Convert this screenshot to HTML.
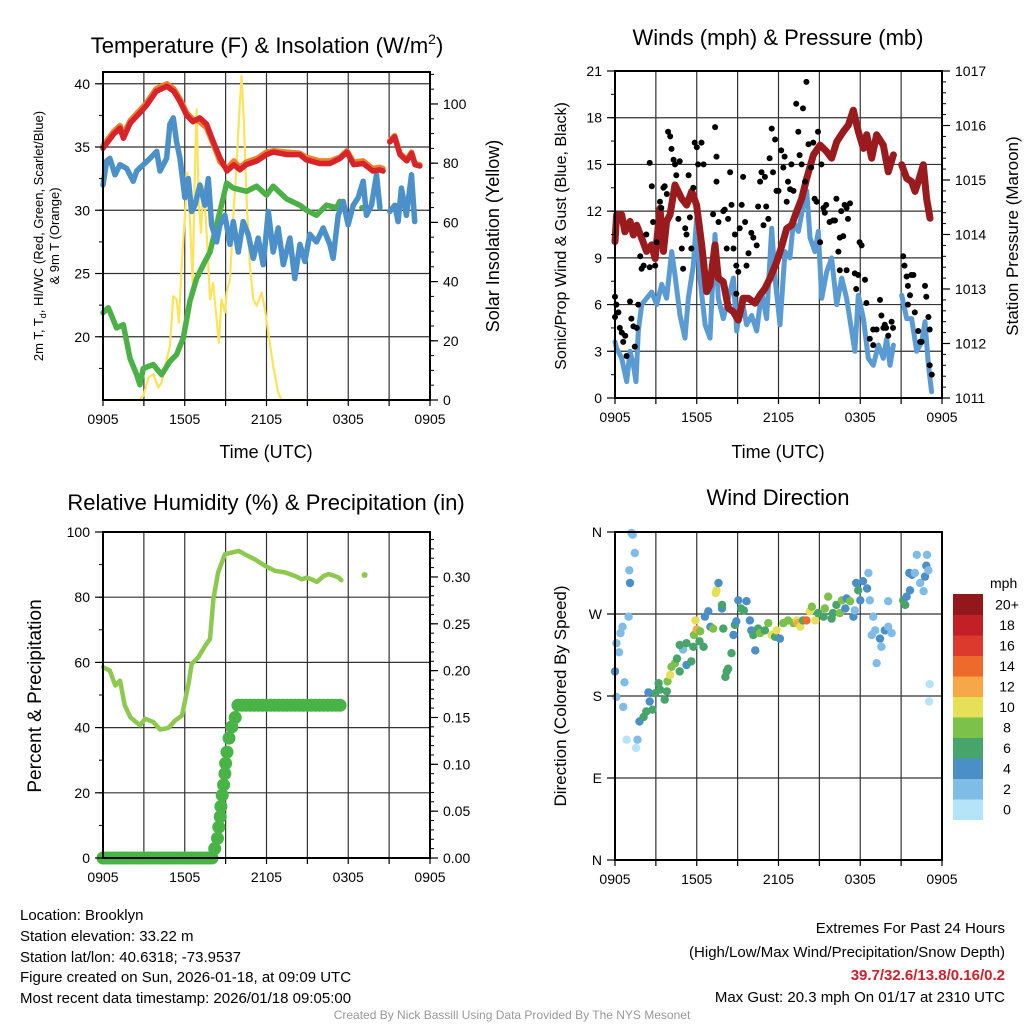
<!DOCTYPE html>
<html><head><meta charset="utf-8"><style>
body{margin:0;background:#fff}
svg{display:block;font-family:"Liberation Sans",sans-serif}
</style></head><body>
<svg id="s" width="1024" height="1024" viewBox="0 0 1024 1024" xmlns="http://www.w3.org/2000/svg">
<rect width="1024" height="1024" fill="#fff"/>
<g id="g"></g>
<g font-size="22" text-anchor="middle" fill="#000">
<text x="267" y="53">Temperature (F) &amp; Insolation (W/m<tspan font-size="14" dy="-9">2</tspan><tspan dy="9">)</tspan></text>
<text x="778" y="45">Winds (mph) &amp; Pressure (mb)</text>
<text x="266" y="510">Relative Humidity (%) &amp; Precipitation (in)</text>
<text x="778" y="505">Wind Direction</text>
</g>
<g font-size="18" text-anchor="middle">
<text x="266" y="458">Time (UTC)</text>
<text x="778" y="458">Time (UTC)</text>
<text transform="translate(499,236) rotate(-90)">Solar Insolation (Yellow)</text>
<text transform="translate(1018,236) rotate(-90)" font-size="17">Station Pressure (Maroon)</text>
<text transform="translate(566,236) rotate(-90)" font-size="16">Sonic/Prop Wind &amp; Gust (Blue, Black)</text>
<text transform="translate(41,696) rotate(-90)" font-size="19">Percent &amp; Precipitation</text>
<text transform="translate(566,696) rotate(-90)" font-size="17">Direction (Colored By Speed)</text>
<text transform="translate(43,236) rotate(-90)" font-size="13">2m T, T<tspan font-size="9" dy="3">d</tspan><tspan dy="-3">, HI/WC (Red, Green, Scarlet/Blue)</tspan></text>
<text transform="translate(59,236) rotate(-90)" font-size="13">&amp; 9m T (Orange)</text>
</g>
<g font-size="15" fill="#000">
<text x="20" y="920">Location: Brooklyn</text>
<text x="20" y="941">Station elevation: 33.22 m</text>
<text x="20" y="962">Station lat/lon: 40.6318; -73.9537</text>
<text x="20" y="982">Figure created on Sun, 2026-01-18, at 09:09 UTC</text>
<text x="20" y="1003">Most recent data timestamp: 2026/01/18 09:05:00</text>
<g text-anchor="end">
<text x="1005" y="933">Extremes For Past 24 Hours</text>
<text x="1005" y="957">(High/Low/Max Wind/Precipitation/Snow Depth)</text>
<text x="1005" y="980" fill="#d0202a" font-weight="bold">39.7/32.6/13.8/0.16/0.2</text>
<text x="1005" y="1002">Max Gust: 20.3 mph On 01/17 at 2310 UTC</text>
</g>
<text x="512" y="1019" font-size="12" fill="#999" text-anchor="middle">Created By Nick Bassill Using Data Provided By The NYS Mesonet</text>
</g>
</svg>
<script>
// ---------- data ----------
const xTickLabels=["0905","1505","2105","0305","0905"];
const tempTicks=[20,25,30,35,40];
const solarTicks=[0,20,40,60,80,100];
const windTicks=[0,3,6,9,12,15,18,21];
const presTicks=[1011,1012,1013,1014,1015,1016,1017];
const rhTicks=[0,20,40,60,80,100];
const precipTicks=["0.00","0.05","0.10","0.15","0.20","0.25","0.30"];
const dirTicks=["N","E","S","W","N"];
const cbLabels=["0","2","4","6","8","10","12","14","16","18","20+"];
const cbColors=["#b5e3f7","#80bde6","#4a8fc6","#47a56c","#7bc14a","#e6df58","#f5a845","#ee6a2c","#dc3a2c","#c21f27","#93181b"];

const redT=[0,0.76,1.25,1.5,2.0,2.7,3.2,3.9,4.7,5.2,5.65,6.15,6.6,7.1,7.6,8.1,8.6,9.1,9.6,10.05,10.5,11.3,12.0,12.5,13.5,14.45,14.9,15.9,16.65,17.4,17.9,18.4,19.1,19.8,20.3,20.55,null,21.05,21.4,21.8,22.3,22.65,22.9,23.25];
const redV=[34.9,36.0,36.5,35.7,36.9,37.7,38.3,39.4,39.8,39.4,38.6,37.5,37.0,37.3,36.8,35.4,34.1,33.1,33.6,33.2,33.6,33.9,34.4,34.6,34.4,34.4,34.0,33.7,33.7,34.1,34.6,33.6,33.7,33.1,33.2,33.1,null,35.4,35.8,34.4,33.9,34.5,33.6,33.5];
const orangeV=[35.1,36.2,36.7,36.0,37.1,37.9,38.5,39.6,40.0,39.6,38.8,37.7,37.2,37.0,36.5,35.2,33.8,33.3,33.9,33.4,33.8,34.1,34.6,34.7,34.6,34.5,34.2,33.9,33.9,34.2,34.7,33.8,33.9,33.3,33.4,33.3,null,35.5,35.9,34.5,34.0,34.6,33.7,33.6];
const blueT=[0,0.27,0.51,0.88,1.25,1.74,2.22,2.47,2.96,3.45,3.94,4.18,4.67,4.91,5.16,5.4,5.65,6.01,6.26,6.5,6.75,7.11,7.48,7.73,7.97,8.34,8.58,8.95,9.32,9.56,9.93,10.29,10.66,11.03,11.39,11.76,12.13,12.49,12.86,13.23,13.72,14.08,14.45,14.82,15.18,15.67,16.16,16.65,16.89,17.26,17.63,17.99,18.36,18.73,19.1,19.34,19.71,20.07,20.32,null,21.05,21.42,21.66,21.9,22.27,22.64,22.88];
const blueV=[32.0,33.9,34.1,32.8,33.6,33.3,32.3,33.1,33.6,34.1,34.65,33.1,34.1,36.8,37.3,35.4,34.1,31.0,32.5,29.9,30.4,32.0,30.4,32.5,28.85,27.5,28.85,29.6,27.3,29.1,26.7,29.1,28.1,26.2,27.8,25.7,29.9,26.7,28.6,25.7,27.8,24.6,27.3,25.95,28.1,27.5,28.6,27.3,26.2,29.6,30.7,28.85,30.4,31.0,32.3,29.6,30.4,32.8,30.2,null,29.9,30.4,29.1,31.75,29.6,32.8,29.1];
const greenT=[0,0.39,1.0,1.49,1.98,2.47,2.71,2.96,3.69,4.3,4.91,5.4,5.89,6.38,6.87,7.36,7.85,8.34,8.83,9.07,9.56,10.54,11.27,12.0,12.49,13.47,14.45,14.94,15.67,16.4,17.14,17.38,null,19.0,19.2];
const greenV=[21.9,22.3,20.7,20.95,18.3,17.0,16.2,17.5,17.8,17.0,18.05,18.6,19.9,22.8,24.6,25.7,26.7,28.85,31.0,32.15,31.75,31.5,31.9,31.2,31.9,30.9,30.4,30.0,29.6,30.4,30.2,30.7,null,30.2,30.2];
const solarT=[0,2.71,2.96,3.33,3.69,4.06,4.3,4.67,4.91,5.16,5.4,5.57,5.77,6.01,6.19,6.38,6.58,6.75,6.87,7.02,7.19,7.36,7.55,7.73,7.85,8.09,8.34,8.51,8.7,8.95,9.07,9.32,9.56,9.8,10.0,10.17,10.34,10.54,10.78,11.03,11.27,11.64,11.88,12.13,12.49,12.86,13.1,17.38];
const solarV=[0,0,1.4,7.5,8.7,4.2,5.9,13.7,18.2,35.1,34,26.1,45.3,62.2,76.8,61,39.6,79,98.2,67.8,56.5,72.3,61,45.3,34,39.6,27.3,19.4,34,29.5,36.3,40.8,62.2,79,97.1,109.5,93.7,67.8,45.3,34,31.8,36.3,30.6,22.7,11.5,2.5,0,0];

const windT=[0,0.12,0.49,0.86,1.1,1.35,1.54,1.71,1.96,2.32,2.69,3.06,3.43,3.79,4.16,4.4,4.77,5.14,5.38,5.75,5.99,6.24,6.61,6.97,7.34,7.58,7.95,8.32,8.69,8.93,9.3,9.66,10.03,10.4,10.76,11.13,11.5,11.74,12.11,12.48,12.84,13.09,13.46,13.82,14.07,14.31,14.68,14.92,15.17,15.54,15.9,16.27,16.64,17.0,17.37,17.61,17.86,18.23,18.59,18.96,19.33,19.69,19.94,20.18,20.43,null,21.04,21.41,21.77,22.14,22.51,22.75,23.0,23.24];
const windV=[3.6,3.2,2.55,1.05,3.0,2.1,1.05,4.3,6.0,6.4,6.8,6.0,7.3,6.4,9.4,7.9,5.3,3.85,6.4,8.5,11.5,7.7,4.7,3.85,10.5,6.4,5.1,6.4,7.7,4.3,6.4,4.7,5.3,4.3,6.8,5.1,10.9,7.7,4.7,9.4,9.0,11.3,10.7,12.4,13.3,10.3,9.4,10.7,6.4,8.1,9.0,6.0,7.7,6.4,4.3,3.0,6.6,5.1,2.55,2.1,3.4,2.55,3.8,2.1,3.4,null,6.6,5.1,5.1,3.0,3.6,4.9,2.1,0.4];
const presT=[0,0.12,0.49,0.73,1.1,1.35,1.59,1.96,2.32,2.69,2.94,3.3,3.55,3.79,4.04,4.4,4.89,5.26,5.63,5.99,6.36,6.73,6.97,7.34,7.58,7.95,8.32,8.69,9.05,9.42,9.79,10.28,10.64,11.01,11.38,11.87,12.23,12.6,12.97,13.33,13.7,14.07,14.56,15.05,15.54,15.9,16.27,16.76,17.13,17.49,17.86,18.23,18.47,18.84,19.2,19.69,20.06,20.43,null,21.04,21.41,21.77,22.02,22.26,22.63,22.87,23.12];
const presV=[1013.87,1014.36,1014.36,1014.05,1014.24,1013.99,1014.17,1013.93,1013.69,1013.81,1013.56,1014.48,1013.69,1014.24,1014.36,1014.91,1014.66,1014.54,1014.79,1014.54,1013.81,1012.95,1013.07,1013.81,1013.2,1013.13,1012.65,1012.58,1012.43,1012.83,1012.83,1012.74,1012.89,1013.01,1013.2,1013.5,1013.78,1014.11,1014.17,1014.42,1014.66,1015.03,1015.46,1015.64,1015.52,1015.4,1015.7,1015.89,1016.01,1016.28,1015.89,1015.58,1015.83,1015.4,1015.83,1015.64,1015.15,1015.46,null,1015.28,1015.03,1014.97,1014.79,1014.97,1015.28,1014.66,1014.3];
const gustT=[0,0,0.1,0.25,0.35,0.5,0.6,0.75,0.85,1.1,1.2,1.35,1.45,1.6,1.7,1.85,1.95,2.1,2.3,2.55,2.7,2.55,2.8,2.95,3.05,3.3,3.4,3.55,3.65,3.8,3.9,4.05,4.15,4.3,4.4,4.5,4.65,4.75,4.9,5.0,5.15,5.25,5.4,5.5,5.6,5.75,5.85,6.0,6.1,6.35,6.5,7.2,7.35,7.45,7.45,7.6,7.95,8.05,8.2,8.3,8.45,8.55,8.7,8.8,8.9,9.05,8.9,9.15,9.3,9.4,9.55,9.65,9.8,10.0,10.15,10.4,10.5,10.65,10.75,10.9,11.0,11.1,11.25,11.35,11.5,11.6,11.75,11.85,12.0,12.2,12.35,12.45,12.6,12.7,12.85,12.95,13.1,13.3,13.45,13.55,13.7,13.8,13.95,14.05,14.2,14.4,14.55,14.65,14.8,14.9,15.05,15.15,15.3,15.4,15.5,15.75,16.0,16.15,16.25,16.5,16.6,16.75,16.85,17.0,17.1,17.25,16.4,16.5,17.0,17.6,17.85,17.95,18.1,18.35,17.7,18.45,18.7,18.95,19.2,19.45,19.55,19.7,19.8,19.9,20.05,20.3,20.4,18.95,21.15,21.25,21.4,21.5,21.65,21.75,21.9,21.5,22.0,22.25,22.4,22.5,22.75,22.85,23.0,23.1,23.1,23.25];
const gustV=[6.5,5.2,6.0,5.5,4.5,4.2,3.6,4.0,2.7,6.2,5.1,4.6,3.3,4.5,6.0,9.1,8.3,8.5,10.5,15.1,13.6,8.4,11.3,8.5,10.0,12.6,12.2,13.5,13.6,13.1,17.1,16.8,16.0,15.3,15.0,14.3,11.5,15.2,9.6,8.3,10.9,10.5,14.3,11.6,9.6,13.5,16.4,16.1,15.0,16.4,15.0,11.8,17.4,15.5,13.9,11.3,12.0,12.1,9.6,11.5,14.5,12.4,9.6,10.5,8.5,8.1,6.7,10.9,12.4,14.2,11.3,8.5,9.3,10.6,10.3,9.8,12.3,13.9,14.5,11.1,14.2,12.3,11.5,15.4,17.3,14.5,16.6,13.3,13.3,15.9,14.8,15.5,12.6,13.9,13.4,15.0,13.3,18.9,17.1,15.6,15.0,18.6,13.9,20.3,16.3,14.8,16.4,12.8,12.6,17.1,10.0,15.0,12.2,11.9,12.4,11.3,11.4,11.4,12.8,10.3,12.0,10.4,12.4,12.2,11.5,12.5,9.4,8.2,8.2,8.0,7.9,10.0,9.8,7.6,7.0,6.1,3.8,4.4,4.4,6.3,5.3,4.5,4.7,4.5,4.0,4.9,4.5,3.4,9.1,8.5,7.8,7.2,6.6,7.9,7.9,6.0,5.5,4.3,3.6,3.6,7.2,6.5,5.2,4.4,2.1,1.5];

const rhT=[0,0.5,0.9,1.25,1.6,2.0,2.7,3.1,3.7,4.2,4.8,5.3,5.8,6.3,6.5,7.0,7.5,7.85,8.1,8.45,8.95,9.95,10.4,11.15,11.9,12.6,13.35,14.1,14.6,14.95,15.3,15.7,16.2,16.55,16.9,17.3,17.5];
const rhV=[58.5,57.5,52.9,54.4,46.8,43.2,40.7,42.7,41.7,39.4,39.9,42.2,43.7,53.9,59.5,61.6,65.1,67.2,79.4,87.6,93.2,94.2,93.2,91.6,89.6,88.1,87.6,86.5,85.5,86.0,85.5,84.7,86.5,87.1,86.7,86.0,85.2];
const rhDotT=[19.2];
const rhDotV=[86.8];
const precipT=[0,0.25,0.5,0.75,1,1.25,1.5,1.75,2,2.25,2.5,2.75,3,3.25,3.5,3.75,4,4.25,4.5,4.75,5,5.25,5.5,5.75,6,6.25,6.5,6.75,7,7.25,7.5,7.75,8.0,8.2,8.4,8.5,8.6,8.65,8.75,8.85,8.95,9.0,9.1,9.25,9.45,9.7,9.9,10.2,10.5,10.8,11.1,11.4,11.7,12,12.3,12.6,12.9,13.2,13.5,13.8,14.1,14.4,14.7,15,15.3,15.6,15.9,16.2,16.5,16.8,17.1,17.4];
const precipV=[0,0,0,0,0,0,0,0,0,0,0,0,0,0,0,0,0,0,0,0,0,0,0,0,0,0,0,0,0,0,0,0,0,0.010,0.021,0.033,0.044,0.055,0.067,0.078,0.090,0.101,0.113,0.128,0.140,0.150,0.163,0.163,0.163,0.163,0.163,0.163,0.163,0.163,0.163,0.163,0.163,0.163,0.163,0.163,0.163,0.163,0.163,0.163,0.163,0.163,0.163,0.163,0.163,0.163,0.163,0.163];

const dirT=[0,0.1,0.3,0.4,0.55,0.1,0.7,0.6,1.0,1.05,1.1,1.2,1.3,1.45,0.85,1.55,1.65,1.8,2.1,2.3,2.45,2.55,2.75,2.95,3.2,3.3,3.65,3.8,3.85,4.05,4.15,4.4,4.55,4.75,5.25,5.0,4.75,5.25,5.6,5.75,5.8,5.9,6.0,6.25,6.2,6.5,6.6,6.85,7.0,7.2,7.45,7.4,7.6,7.85,7.85,7.95,8.1,8.2,8.3,8.55,8.7,8.8,8.9,9.05,9.25,9.45,9.65,9.9,10.0,10.3,10.15,10.5,10.65,11.0,11.25,11.5,11.75,11.85,12.1,12.35,12.7,13.1,13.35,13.4,13.6,13.8,14.05,14.3,14.45,14.7,14.9,15.3,15.4,15.65,15.9,16.0,16.25,16.5,16.65,16.9,17.0,17.25,17.5,17.6,17.7,17.85,18.0,18.2,18.5,18.6,18.7,18.95,18.85,19.1,19.2,19.45,19.55,19.8,20.05,20.3,20.05,21.15,21.3,21.4,21.65,21.6,21.8,22.0,22.15,22.4,22.65,22.75,22.85,22.9,23.0,23.1,23.05];
const dirV=[207,238,228,249,256,179,195,168,267,318,304,359,357,337,132,123,132,152,157,163,184,174,165,183,194,187,176,185,196,203,212,216,221,207,214,231,236,238,218,234,247,263,253,251,240,234,267,273,256,254,296,293,304,276,280,254,201,207,210,227,247,258,262,285,276,274,284,263,252,230,247,254,249,252,260,247,245,252,243,260,263,260,263,260,256,263,263,273,278,263,271,267,276,289,265,271,280,271,285,276,287,284,267,274,304,296,285,306,298,315,285,267,247,252,216,243,234,252,256,249,284,285,280,289,296,315,313,315,335,304,295,311,323,335,318,193,174];
const dirSpd=[4.5,3,3,3,3,3,3,3,3,3,4.5,3,3,3,1,1,3,4.5,6.5,6.5,4.5,4.5,6.5,6.5,7,6.5,6.5,6.5,8.5,10.5,8.5,8.5,6.5,6.5,4.5,3,7,6.5,6.5,6.5,8.5,11,13,8.5,6.5,6.5,4.5,4.5,4.5,8.5,11,11,4.5,4.5,6.5,6.5,6.5,6.5,6.5,6.5,4.5,6.5,4.5,4.5,6.5,6.5,4.5,4.5,4.5,4.5,6.5,6.5,8.5,6.5,8.5,10.5,6.5,10.5,4.5,8.5,8.5,8.5,11,13,10.5,6.5,15,10.5,8.5,10.5,6.5,6.5,8.5,8.5,6.5,6.5,6.5,8.5,8.5,4.5,4.5,8.5,4.5,3,4.5,6.5,4.5,4.5,4.5,3,3,3,3,3,3,4.5,3,4.5,3,3,3,6.5,6.5,4.5,4.5,4.5,4.5,3,3,3,3,4.5,4.5,3,3,1,1];

// ---------- drawing ----------
const NS="http://www.w3.org/2000/svg";
const root=document.getElementById('g');
function mk(tag,parent){const e=document.createElementNS(NS,tag);(parent||root).appendChild(e);return e;}
function sa(e,o){for(const k in o)e.setAttribute(k,o[k]);return e;}

const P1={l:103,r:430,t:72,b:400}, P2={l:615,r:942,t:71,b:398}, P3={l:103,r:430,t:532,b:858}, P4={l:615,r:942,t:532,b:860};
function xs(P){return t=>P.l+t/24*(P.r-P.l);}
function ys(P,lo,hi){return v=>P.b-(v-lo)/(hi-lo)*(P.b-P.t);}
const x1=xs(P1),x2=xs(P2),x3=xs(P3),x4=xs(P4);
const yT=ys(P1,15,40.93), yS=ys(P1,0,110.8), yW=ys(P2,0,21), yP=ys(P2,1011,1017), yRH=ys(P3,0,100), yPr=ys(P3,0,0.348), yD=ys(P4,0,360);

function gridAndAxes(P,name,hVals,yf){
  const g=mk('g');
  
  
  for(let i=1;i<8;i++){const x=P.l+i*(P.r-P.l)/8;
    const l=mk('line',g);sa(l,{x1:x,x2:x,y1:P.t,y2:P.b,stroke:'#333','stroke-width':1.2});
    
    }
  hVals.forEach(v=>{const y=yf(v);const l=mk('line',g);sa(l,{x1:P.l,x2:P.r,y1:y,y2:y,stroke:'#333','stroke-width':1.2});
    
    });
  for(let i=0;i<=8;i++){const x=P.l+i*(P.r-P.l)/8;const l=mk('line',g);sa(l,{x1:x,x2:x,y1:P.b,y2:P.b+6,stroke:'#000','stroke-width':1.2});
    
    }
  xTickLabels.forEach((s,i)=>{const t=mk('text',g);sa(t,{x:P.l+i*(P.r-P.l)/4,y:P.b+24,'font-size':14,'text-anchor':'middle'});t.textContent=s;
    
    });
}
function frame(P,name){const r=mk('rect');sa(r,{x:P.l,y:P.t,width:P.r-P.l,height:P.b-P.t,fill:'none',stroke:'#000','stroke-width':2});
  
  }
function yAxis(P,side,vals,labels,yf,minor,name){
  const g=mk('g');
  
  
  const x0=side==='l'?P.l:P.r, d=side==='l'?-1:1;
  minor.forEach(v=>{const y=yf(v);const l=mk('line',g);sa(l,{x1:x0,x2:x0+d*4,y1:y,y2:y,stroke:'#000','stroke-width':1});
    
    });
  vals.forEach((v,i)=>{const y=yf(v);const l=mk('line',g);sa(l,{x1:x0,x2:x0+d*8,y1:y,y2:y,stroke:'#000','stroke-width':1.2});
    
    
    const t=mk('text',g);sa(t,{x:x0+d*13,y:y+5,'font-size':14,'text-anchor':side==='l'?'end':'start'});t.textContent=labels[i];
    
    });
}
function range(a,b,s){const r=[];for(let v=a;v<=b+1e-9;v+=s)r.push(+v.toFixed(4));return r;}
function line(T,V,xf,yf,color,w,name){
  let d='',pen=false;
  for(let i=0;i<T.length;i++){if(T[i]===null||V[i]===null){pen=false;continue;}
    d+=(pen?'L':'M')+xf(T[i]).toFixed(1)+','+yf(V[i]).toFixed(1);pen=true;}
  const p=mk('path');sa(p,{d:d,fill:'none',stroke:color,'stroke-width':w,'stroke-linejoin':'round','stroke-linecap':'round'});
  
  
}
function dots(T,V,xf,yf,color,r,name){
  for(let i=0;i<T.length;i++){const c=mk('circle');sa(c,{cx:xf(T[i]).toFixed(1),cy:yf(V[i]).toFixed(1),r:r,fill:color});
    
    }
}

// Panel 1
gridAndAxes(P1,'temp',tempTicks,yT);
line(solarT,solarV,x1,yS,'#fde35a',2.2,'solar-insolation-line');
line(greenT,greenV,x1,yT,'#4bb045',5.5,'dewpoint-line');
line(blueT,blueV,x1,yT,'#4b90c9',5.5,'windchill-line');
line(redT,orangeV,x1,yT,'#f2802b',5.5,'temp-9m-line');
line(redT,redV,x1,yT,'#d6242a',5.5,'temp-2m-line');
frame(P1,'temp');
yAxis(P1,'l',tempTicks,tempTicks.map(String),yT,range(17.5,40,2.5),'temp-y-axis');
yAxis(P1,'r',solarTicks,solarTicks.map(String),yS,range(0,110,5),'solar-y-axis');

// Panel 2
gridAndAxes(P2,'winds',windTicks.slice(1,-1),yW);
line(windT,windV,x2,yW,'#5a9bd4',5,'wind-speed-line');
line(presT,presV,x2,yP,'#9a1b1e',7,'pressure-line');
dots(gustT,gustV,x2,yW,'#000',3,'gust-dot');
frame(P2,'winds');
yAxis(P2,'l',windTicks,windTicks.map(String),yW,range(0,21,1.5),'wind-y-axis');
yAxis(P2,'r',presTicks,presTicks.map(String),yP,range(1011,1017,0.2),'pressure-y-axis');

// Panel 3
gridAndAxes(P3,'humidity',[20,40,60,80],yRH);
line(rhT,rhV,x3,yRH,'#8dc94f',4.5,'humidity-line');
dots(rhDotT,rhDotV,x3,yRH,'#8dc94f',3,'humidity-dot');
dots(precipT,precipV,x3,yPr,'#48b446',6.5,'precip-dot');
frame(P3,'humidity');
yAxis(P3,'l',rhTicks,rhTicks.map(String),yRH,range(0,100,10),'humidity-y-axis');
yAxis(P3,'r',precipTicks.map(Number),precipTicks,yPr,range(0,0.34,0.01),'precip-y-axis');

// Panel 4
gridAndAxes(P4,'direction',[90,180,270],yD);
function spdColor(s){return cbColors[Math.min(10,Math.floor(s/2))];}
for(let i=0;i<dirT.length;i++){const c=mk('circle');sa(c,{cx:x4(dirT[i]).toFixed(1),cy:yD(dirV[i]).toFixed(1),r:4.2,fill:spdColor(dirSpd[i])});
  
  }
frame(P4,'direction');
yAxis(P4,'l',[0,90,180,270,360],dirTicks,yD,[],'direction-y-axis');

// Colorbar
const cbg=mk('g');


const cbTop=594,cbH=20.5;
for(let i=0;i<11;i++){const y=cbTop+(10-i)*cbH;
  const r=mk('rect',cbg);sa(r,{x:953,y:y,width:30,height:cbH+0.5,fill:cbColors[i]});
  
  
  const t=mk('text',cbg);sa(t,{x:1007,y:y+cbH/2+5,'font-size':14,'text-anchor':'middle'});t.textContent=cbLabels[i];
  
  }
const mt=mk('text',cbg);sa(mt,{x:990,y:588,'font-size':14});mt.textContent='mph';


</script>
</body></html>
